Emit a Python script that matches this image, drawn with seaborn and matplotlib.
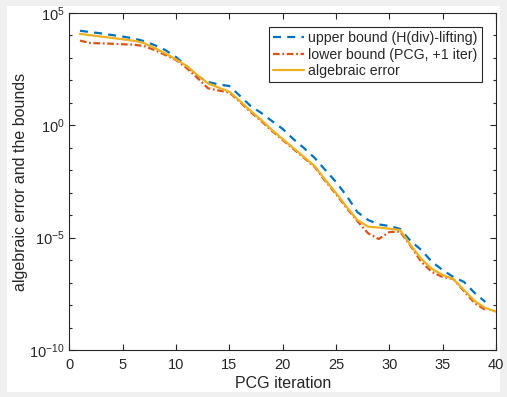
#!/usr/bin/env python3
"""PCG convergence: algebraic error and its upper/lower bounds."""

import matplotlib
matplotlib.use("Agg")
import matplotlib.pyplot as plt
import numpy as np
import pandas as pd
import seaborn as sns
from matplotlib.patches import Rectangle
from matplotlib.ticker import LogLocator, NullFormatter

# log10 of the values
iters_bounds = list(range(1, 40))
iters_error = list(range(1, 41))
log_upper = [4.21, 4.15, 4.09, 4.02, 3.95, 3.87, 3.75, 3.57, 3.35, 3.04,
             2.64, 2.20, 1.93, 1.82, 1.75, 1.31, 0.86, 0.55, 0.19, -0.16,
             -0.61, -1.01, -1.45, -1.99, -2.52, -3.14, -3.86, -4.21, -4.41, -4.48,
             -4.61, -5.15, -5.55, -6.08, -6.44, -6.75, -6.97, -7.46, -7.86]
log_lower = [3.77, 3.66, 3.65, 3.63, 3.61, 3.59, 3.53, 3.35, 3.13, 2.91,
             2.55, 2.11, 1.65, 1.55, 1.46, 1.04, 0.59, 0.19, -0.25, -0.65,
             -1.05, -1.45, -1.85, -2.48, -3.06, -3.68, -4.26, -4.80, -5.06, -4.75,
             -4.73, -5.37, -6.08, -6.53, -6.75, -6.84, -7.38, -7.91, -8.22]
log_error = [4.07, 4.01, 3.95, 3.89, 3.83, 3.77, 3.66, 3.44, 3.20, 2.94,
             2.64, 2.24, 1.87, 1.68, 1.50, 1.08, 0.64, 0.24, -0.21, -0.61,
             -1.01, -1.41, -1.81, -2.43, -3.01, -3.63, -4.21, -4.51, -4.55, -4.60,
             -4.66, -5.33, -5.95, -6.39, -6.66, -6.84, -7.33, -7.82, -8.13, -8.29]

labels = ["upper bound (H(div)-lifting)", "lower bound (PCG, +1 iter)", "algebraic error"]
colors = ["#0072BD", "#D95319", "#EDB120"]
dash_patterns = [(3.6, 2.8), (3.0, 1.2, 0.8, 1.2), ()]

sns.set_theme(style="ticks")
plt.rcParams["font.family"] = ["Liberation Sans", "DejaVu Sans"]
plt.rcParams["mathtext.fontset"] = "custom"
plt.rcParams["mathtext.rm"] = "Liberation Sans"

fig = plt.figure(figsize=(5.07, 3.97), dpi=100, facecolor="#f0f0f0")
fig.patches.append(Rectangle((7 / 507, 1 - 392 / 397), 493 / 507, 386 / 397,
                             transform=fig.transFigure, facecolor="white",
                             edgecolor="none", zorder=-10))
ax = fig.add_axes([69.3 / 507, 1 - 350 / 397, (496 - 69.3) / 507, (350 - 13) / 397])
ax.set_zorder(1)

series = [(iters_bounds, log_upper), (iters_bounds, log_lower), (iters_error, log_error)]
for (its, logs), label, color, dp in zip(series, labels, colors, dash_patterns):
    df = pd.DataFrame({"iteration": its, "value": np.power(10.0, logs)})
    kw = {"dashes": dp} if dp else {"linestyle": "-"}
    sns.lineplot(data=df, x="iteration", y="value", ax=ax, color=color,
                 linewidth=1.6, label=label, **kw)

ax.set_yscale("log")
ax.set_xlim(0, 40)
ax.set_ylim(1e-10, 1e5)
ax.set_xticks(range(0, 41, 5))
ax.set_yticks([1e-10, 1e-5, 1e0, 1e5])
ax.yaxis.set_minor_locator(LogLocator(base=10, subs=[1.0], numticks=40))
ax.yaxis.set_minor_formatter(NullFormatter())

ax.set_xlabel("PCG iteration", fontsize=11.5, color="#262626", labelpad=3)
ax.set_ylabel("algebraic error and the bounds", fontsize=11.5, color="#262626", labelpad=1)

for side in ["left", "right", "top", "bottom"]:
    ax.spines[side].set_visible(True)
    ax.spines[side].set_color("#262626")
    ax.spines[side].set_linewidth(0.8)
ax.tick_params(which="both", direction="in", top=True, right=True,
               colors="#262626", labelsize=10.5, width=0.8)
ax.tick_params(axis="x", which="major", pad=6)
ax.tick_params(which="major", length=4)
ax.tick_params(which="minor", length=2.5)

leg = ax.legend(loc="upper right", fontsize=10.2, frameon=True, fancybox=False,
                edgecolor="#262626", framealpha=1, handlelength=2.2,
                borderpad=0.3, labelspacing=0.15, handletextpad=0.3,
                borderaxespad=1.0)
leg.get_frame().set_linewidth(0.8)

fig.savefig("out.png", dpi=100, facecolor=fig.get_facecolor())
